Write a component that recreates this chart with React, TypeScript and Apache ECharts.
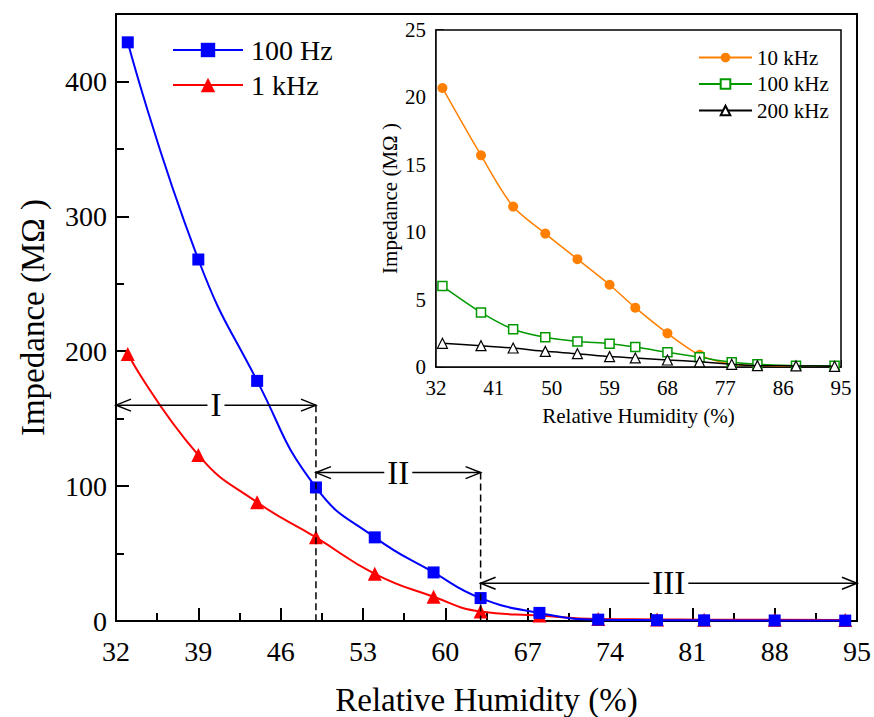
import React, { useEffect, useRef } from "react";
import * as echarts from "echarts";

// ---- data ----
const humidity = [33, 39, 44, 49, 54, 59, 63, 68, 73, 78, 82, 88, 94];
const z100Hz = [429, 268, 178, 99, 62, 36, 17, 6, 1.0, 0.6, 0.5, 0.4, 0.3];
const z1kHz = [198, 123, 88, 62, 35, 18, 7, 4, 1.5, 1.2, 1.0, 0.9, 0.8];
const z10kHz = [20.7, 15.7, 11.9, 9.9, 8.0, 6.1, 4.4, 2.5, 0.9, 0.2, 0.1, 0.05, 0.05];
const z100kHz = [6.0, 4.05, 2.8, 2.2, 1.9, 1.73, 1.48, 1.09, 0.72, 0.35, 0.2, 0.1, 0.1];
const z200kHz = [1.76, 1.58, 1.41, 1.16, 0.99, 0.77, 0.67, 0.52, 0.39, 0.2, 0.1, 0.08, 0.05];

// tick labels
const mainXTicks = [32, 39, 46, 53, 60, 67, 74, 81, 88, 95];
const mainYTicks = [0, 100, 200, 300, 400];
const insetXTicks = [32, 41, 50, 59, 68, 77, 86, 95];
const insetYTicks = [0, 5, 10, 15, 20, 25];

// region annotations: [from, to, y, dropLine]
const regionLabels = ["I", "II", "III"];
const regionSpans = [
  [32, 49, 160, 1],
  [49, 63, 110, 1],
  [63, 95, 28, 0],
];

const FONT = "Liberation Serif";

const mids = (arr: number[], max?: number) => {
  const out: number[] = [];
  for (let i = 0; i < arr.length - 1; i++) out.push((arr[i] + arr[i + 1]) / 2);
  if (max !== undefined) {
    const step = arr[1] - arr[0];
    const last = arr[arr.length - 1] + step / 2;
    if (last <= max) out.push(last);
  }
  return out;
};

const pair = (ys: number[]) => humidity.map((h, i) => [h, ys[i]]);

export default function App() {
  const ref = useRef<HTMLDivElement>(null);
  useEffect(() => {
    if (!ref.current) return;
    const chart = echarts.init(ref.current, undefined, { renderer: "svg" });

    const majorAxis = (extra: any) => ({
      type: "value",
      splitLine: { show: false },
      ...extra,
    });

    const option: any = {
      animation: false,
      backgroundColor: "#fff",
      textStyle: { fontFamily: FONT },
      grid: [
        {
          left: 116,
          top: 14,
          width: 741,
          height: 607,
          show: true,
          borderColor: "#000",
          borderWidth: 2,
          backgroundColor: "#fff",
          outerBoundsMode: "none",
          containLabel: false,
        },
        {
          left: 436,
          top: 30,
          width: 405,
          height: 337,
          show: true,
          borderColor: "#000",
          borderWidth: 1.5,
          backgroundColor: "#fff",
          outerBoundsMode: "none",
          containLabel: false,
          z: 5,
        },
      ],
      legend: [
        {
          orient: "vertical",
          left: 167,
          top: 31,
          itemWidth: 70,
          itemHeight: 18,
          itemGap: 7,
          selectedMode: false,
          data: ["100 Hz", "1 kHz"],
          textStyle: { fontFamily: FONT, fontSize: 28, color: "#000", lineHeight: 28, padding: [0, 0, 0, 3] },
        },
        {
          orient: "vertical",
          left: 693,
          top: 42,
          itemWidth: 53,
          itemHeight: 12,
          itemGap: 5.5,
          selectedMode: false,
          z: 10,
          data: ["10 kHz", "100 kHz", "200 kHz"],
          textStyle: { fontFamily: FONT, fontSize: 21, color: "#000", lineHeight: 21 },
        },
      ],
      xAxis: [
        majorAxis({
          gridIndex: 0,
          min: 32,
          max: 95,
          position: "bottom",
          name: "Relative Humidity (%)",
          nameLocation: "middle",
          nameGap: 62,
          nameTextStyle: { fontFamily: FONT, fontSize: 33, color: "#000" },
          axisLine: { show: true, lineStyle: { color: "#000", width: 2 } },
          axisTick: { show: true, inside: true, length: 13, customValues: mainXTicks, lineStyle: { color: "#000", width: 2 } },
          axisLabel: { show: true, customValues: mainXTicks, margin: 16, fontFamily: FONT, fontSize: 28, color: "#000" },
        }),
        majorAxis({
          gridIndex: 0,
          min: 32,
          max: 95,
          position: "bottom",
          axisLine: { show: false },
          axisTick: { show: true, inside: true, length: 8, customValues: mids(mainXTicks), lineStyle: { color: "#000", width: 2 } },
          axisLabel: { show: false },
        }),
        majorAxis({
          gridIndex: 1,
          min: 32,
          max: 95,
          position: "bottom",
          name: "Relative Humidity (%)",
          nameLocation: "middle",
          nameGap: 38,
          nameTextStyle: { fontFamily: FONT, fontSize: 21, color: "#000" },
          axisLine: { show: true, lineStyle: { color: "#000", width: 1.5 } },
          axisTick: { show: true, inside: true, length: 7, customValues: insetXTicks, lineStyle: { color: "#000", width: 1.5 } },
          axisLabel: { show: true, customValues: insetXTicks, margin: 10, fontFamily: FONT, fontSize: 21, color: "#000" },
        }),
        majorAxis({
          gridIndex: 1,
          min: 32,
          max: 95,
          position: "bottom",
          axisLine: { show: false },
          axisTick: { show: true, inside: true, length: 5, customValues: mids(insetXTicks), lineStyle: { color: "#000", width: 1.5 } },
          axisLabel: { show: false },
        }),
      ],
      yAxis: [
        majorAxis({
          gridIndex: 0,
          min: 0,
          max: 450,
          position: "left",
          name: "Impedance (MΩ )",
          nameLocation: "middle",
          nameGap: 67,
          nameTextStyle: { fontFamily: FONT, fontSize: 33, color: "#000" },
          axisLine: { show: true, lineStyle: { color: "#000", width: 2 } },
          axisTick: { show: true, inside: true, length: 13, customValues: mainYTicks, lineStyle: { color: "#000", width: 2 } },
          axisLabel: { show: true, customValues: mainYTicks, margin: 9, fontFamily: FONT, fontSize: 28, color: "#000" },
        }),
        majorAxis({
          gridIndex: 0,
          min: 0,
          max: 450,
          position: "left",
          axisLine: { show: false },
          axisTick: { show: true, inside: true, length: 8, customValues: mids(mainYTicks, 450), lineStyle: { color: "#000", width: 2 } },
          axisLabel: { show: false },
        }),
        majorAxis({
          gridIndex: 1,
          min: 0,
          max: 25,
          position: "left",
          name: "Impedance (MΩ )",
          nameLocation: "middle",
          nameGap: 36,
          nameTextStyle: { fontFamily: FONT, fontSize: 21, color: "#000" },
          axisLine: { show: true, lineStyle: { color: "#000", width: 1.5 } },
          axisTick: { show: true, inside: true, length: 8, customValues: insetYTicks, lineStyle: { color: "#000", width: 1.5 } },
          axisLabel: { show: true, customValues: insetYTicks, margin: 10, fontFamily: FONT, fontSize: 21, color: "#000" },
        }),
        majorAxis({
          gridIndex: 1,
          min: 0,
          max: 25,
          position: "left",
          axisLine: { show: false },
          axisTick: { show: true, inside: true, length: 5, customValues: mids(insetYTicks), lineStyle: { color: "#000", width: 1.5 } },
          axisLabel: { show: false },
        }),
      ],
      series: [
        {
          name: "1 kHz",
          type: "line",
          xAxisIndex: 0,
          yAxisIndex: 0,
          data: pair(z1kHz),
          smooth: 0.5,
          symbol: "triangle",
          symbolSize: 14,
          itemStyle: { color: "#ff0000" },
          lineStyle: { color: "#ff0000", width: 2 },
          z: 3,
        },
        {
          name: "100 Hz",
          type: "line",
          xAxisIndex: 0,
          yAxisIndex: 0,
          data: pair(z100Hz),
          smooth: 0.5,
          symbol: "rect",
          symbolSize: 12,
          itemStyle: { color: "#0000ff" },
          lineStyle: { color: "#0000ff", width: 2 },
          z: 4,
        },
        {
          name: "regions",
          type: "custom",
          xAxisIndex: 0,
          yAxisIndex: 0,
          clip: false,
          z: 6,
          encode: { x: [0, 1], y: 2 },
          data: regionSpans,
          renderItem: (params: any, api: any) => {
            const x1 = api.value(0);
            const x2 = api.value(1);
            const y = api.value(2);
            const drop = api.value(3);
            const p1 = api.coord([x1, y]);
            const p2 = api.coord([x2, y]);
            const stroke = { stroke: "#000", lineWidth: 1.5, fill: "none" };
            const ah = 15;
            const aw = 6;
            const children: any[] = [
              { type: "line", shape: { x1: p1[0], y1: p1[1], x2: p2[0], y2: p2[1] }, style: stroke },
              {
                type: "polyline",
                shape: { points: [[p1[0] + ah, p1[1] - aw], [p1[0], p1[1]], [p1[0] + ah, p1[1] + aw]] },
                style: stroke,
              },
              {
                type: "polyline",
                shape: { points: [[p2[0] - ah, p2[1] - aw], [p2[0], p2[1]], [p2[0] - ah, p2[1] + aw]] },
                style: stroke,
              },
            ];
            if (drop) {
              const p0 = api.coord([x2, 0]);
              children.push({
                type: "line",
                shape: { x1: p2[0], y1: p2[1], x2: p0[0], y2: p0[1] },
                style: { stroke: "#000", lineWidth: 1.5, lineDash: [7, 4] },
              });
            }
            children.push({
              type: "text",
              style: {
                text: regionLabels[params.dataIndex],
                x: (p1[0] + p2[0]) / 2,
                y: p1[1],
                align: "center",
                verticalAlign: "middle",
                fontFamily: FONT,
                fontSize: 33,
                fill: "#000",
                backgroundColor: "#fff",
                padding: [0, 3],
              },
            });
            return { type: "group", children };
          },
        },
        {
          name: "10 kHz",
          type: "line",
          xAxisIndex: 2,
          yAxisIndex: 2,
          data: pair(z10kHz),
          smooth: 0.3,
          symbol: "circle",
          symbolSize: 10,
          itemStyle: { color: "#ff8000" },
          lineStyle: { color: "#ff8000", width: 1.5 },
          z: 7,
        },
        {
          name: "100 kHz",
          type: "line",
          xAxisIndex: 2,
          yAxisIndex: 2,
          data: pair(z100kHz),
          smooth: 0.3,
          symbol: "rect",
          symbolSize: 9,
          itemStyle: { color: "#fff", borderColor: "#009900", borderWidth: 1.5 },
          lineStyle: { color: "#009900", width: 1.5 },
          z: 8,
        },
        {
          name: "200 kHz",
          type: "line",
          xAxisIndex: 2,
          yAxisIndex: 2,
          data: pair(z200kHz),
          smooth: 0.2,
          symbol: "triangle",
          symbolSize: 10,
          itemStyle: { color: "#fff", borderColor: "#000", borderWidth: 1.2 },
          lineStyle: { color: "#000", width: 1.5 },
          z: 9,
        },
      ],
    };

    chart.setOption(option);
    return () => chart.dispose();
  }, []);

  return (
    <div
      ref={ref}
      style={{ position: "absolute", left: 0, top: 0, width: 874, height: 717, background: "#fff" }}
    />
  );
}
